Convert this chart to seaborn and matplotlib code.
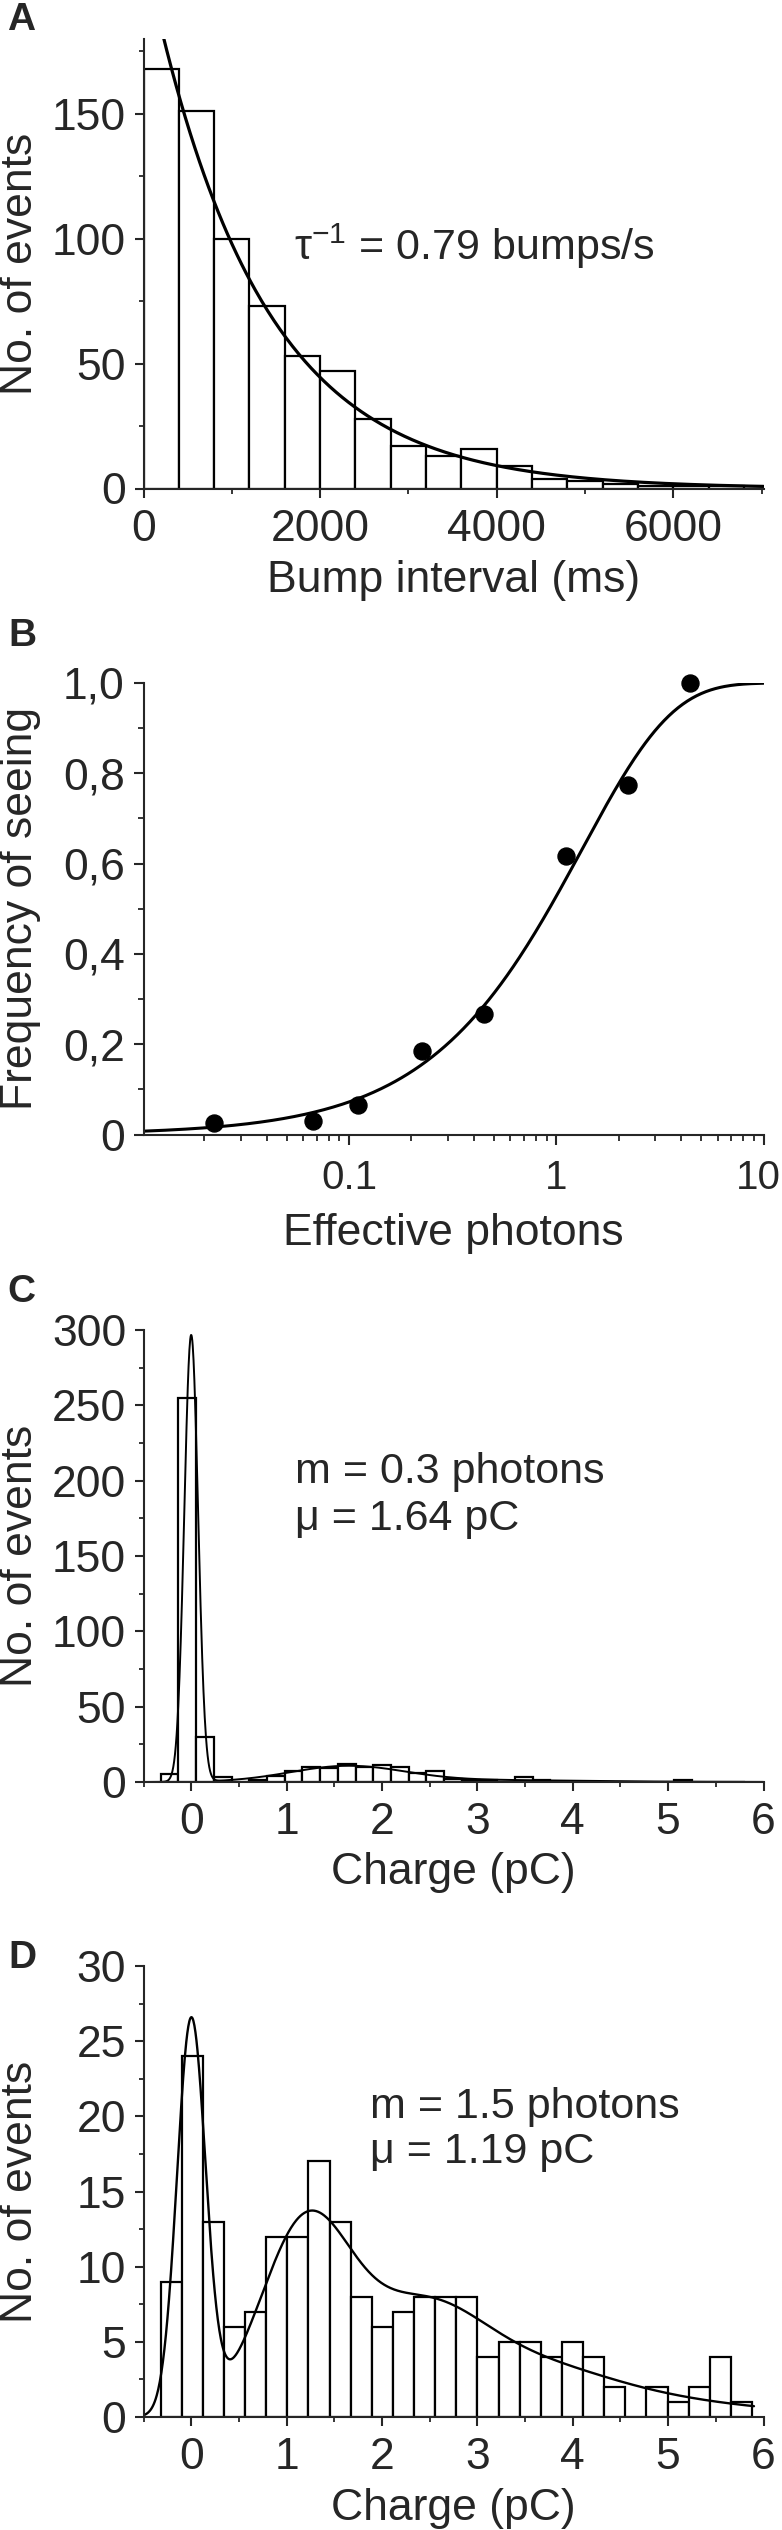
import numpy as np
import pandas as pd
import seaborn as sns
import matplotlib.pyplot as plt
import matplotlib.transforms as mtransforms
from matplotlib.ticker import MultipleLocator, LogLocator, NullFormatter
from math import factorial

# Panel A: bump intervals, 400 ms bins
interval_edges = np.arange(0, 7201, 400)
interval_counts = [168, 151, 100, 73, 53, 47, 28, 17, 13, 16, 9, 4, 3, 2, 1, 1, 1, 0]
bump_rate = 0.79      # bumps/s (fit)
interval_amp = 216    # fit amplitude

# Panel B: frequency of seeing
photons = [0.0223, 0.0667, 0.111, 0.224, 0.446, 1.11, 2.23, 4.44]
seeing = [0.026, 0.030, 0.065, 0.186, 0.268, 0.617, 0.774, 1.0]
seeing_k = 0.75
seeing_yticks = [0, 0.2, 0.4, 0.6, 0.8, 1.0]
seeing_ylabels = ["0", "0,2", "0,4", "0,6", "0,8", "1,0"]

# Panel C: charge histogram, m = 0.3
charge_c_start, charge_c_width = -0.319, 0.1857
charge_c_counts = [5, 255, 30, 3, 0, 1, 4, 7, 10, 9, 12, 10, 11, 10, 6, 7, 2, 1, 1, 0,
                   3, 1, 0, 0, 0, 0, 0, 0, 0, 1, 0, 0, 0]
fit_c = dict(m=0.3, mu=1.64, sd0=0.072, sd1=0.6)

# Panel D: charge histogram, m = 1.5
charge_d_start, charge_d_width = -0.32, 0.2214
charge_d_counts = [9, 24, 13, 6, 7, 12, 12, 17, 13, 8, 6, 7, 8, 8, 8, 4, 5, 5, 4, 5,
                   4, 2, 0, 2, 1, 2, 4, 1]
fit_d = dict(m=1.5, mu=1.19, sd0=0.149, sd1=0.45)

sns.set_style("ticks")
plt.rcParams["font.family"] = ["Liberation Sans", "DejaVu Sans"]
plt.rcParams["mathtext.fontset"] = "custom"
plt.rcParams["mathtext.rm"] = "Liberation Sans"
plt.rcParams["mathtext.it"] = "Liberation Sans:italic"
plt.rcParams["axes.linewidth"] = 1.5

W, H = 782, 2530
fig = plt.figure(figsize=(W / 100, H / 100), dpi=100)


def make_axes(left, right, top, bottom):
    return fig.add_axes([left / W, 1 - bottom / H, (right - left) / W, (bottom - top) / H])


def style(ax, major=6.5, minor=3.8):
    for s in ["top", "right"]:
        ax.spines[s].set_visible(False)
    ax.tick_params(which="major", direction="out", length=major, width=1.5, labelsize=32)
    ax.tick_params(which="minor", direction="out", length=minor, width=1.3)
    ax.tick_params(axis="x", which="major", pad=8)
    ax.tick_params(axis="y", which="major", pad=6)


def poisson_fit(x, n_total, width, m, mu, sd0, sd1):
    y = np.zeros_like(x)
    for n in range(10):
        p = np.exp(-m) * m ** n / factorial(n)
        sd = np.sqrt(sd0 ** 2 + n * sd1 ** 2)
        y += p * np.exp(-(x - n * mu) ** 2 / (2 * sd ** 2)) / (np.sqrt(2 * np.pi) * sd)
    return n_total * width * y


def hist_bars(ax, edges, counts):
    edges = np.asarray(edges, dtype=float)
    df = pd.DataFrame({"x": (edges[:-1] + edges[1:]) / 2, "n": counts})
    sns.histplot(data=df, x="x", weights="n", bins=list(edges), ax=ax, color="white",
                 edgecolor="black", linewidth=1.6, alpha=1)


def labels(ax, xlabel, ylabel, xl_y):
    ax.set_xlabel(xlabel, fontsize=32)
    ax.set_ylabel(ylabel, fontsize=32)
    ax.xaxis.set_label_coords(0.5, xl_y)
    ax.xaxis.label.set_verticalalignment("center")
    ax.yaxis.set_label_coords(-0.199, 0.5)
    ax.yaxis.label.set_verticalalignment("center")


# ---- A ----
axA = make_axes(143.5, 763.5, 39, 488.5)
hist_bars(axA, interval_edges, interval_counts)
xa = np.linspace(0, 7020, 400)
sns.lineplot(x=xa, y=interval_amp * np.exp(-xa * bump_rate / 1000), ax=axA,
             color="black", linewidth=2.3)
axA.set_xlim(0, 7020)
axA.set_ylim(0, 180)
axA.xaxis.set_major_locator(MultipleLocator(2000))
axA.xaxis.set_minor_locator(MultipleLocator(1000))
axA.yaxis.set_major_locator(MultipleLocator(50))
axA.yaxis.set_minor_locator(MultipleLocator(25))
style(axA)
labels(axA, "Bump interval (ms)", "No. of events", -0.204)
axA.text(1700, 97, "τ$^{-1}$ = 0.79 bumps/s", va="center", fontsize=31)

# ---- B ----
axB = make_axes(143.5, 763.5, 683, 1134.6)
xb = np.logspace(np.log10(0.0102), 1, 400)
sns.lineplot(x=xb, y=1 - np.exp(-seeing_k * xb), ax=axB, color="black", linewidth=2.2)
sns.scatterplot(x=photons, y=seeing, ax=axB, color="black", s=150, edgecolor="black",
                clip_on=False, zorder=5)
axB.set_xscale("log")
axB.set_xlim(0.0102, 10)
axB.set_ylim(0, 1.0)
axB.set_xticks([0.1, 1, 10], ["0.1", "1", "10"])
axB.xaxis.set_minor_locator(LogLocator(base=10, subs=np.arange(2, 10)))
axB.xaxis.set_minor_formatter(NullFormatter())
axB.set_yticks(seeing_yticks, seeing_ylabels)
axB.yaxis.set_minor_locator(MultipleLocator(0.1))
style(axB, major=7.5, minor=4.3)
axB.tick_params(axis="x", which="major", labelsize=29, pad=10)
# keep the "10" label inside the figure edge
last = axB.get_xticklabels()[-1]
last.set_transform(last.get_transform() +
                   mtransforms.ScaledTranslation(-4 / 72, 0, fig.dpi_scale_trans))
labels(axB, "Effective photons", "Frequency of seeing", -0.218)

# ---- C ----
axC = make_axes(143.5, 763.5, 1330, 1782)
edges_c = charge_c_start + charge_c_width * np.arange(len(charge_c_counts) + 1)
hist_bars(axC, edges_c, charge_c_counts)
xc = np.linspace(-0.5, 6, 1500)
sns.lineplot(x=xc, y=poisson_fit(xc, sum(charge_c_counts), charge_c_width, **fit_c),
             ax=axC, color="black", linewidth=1.4)
axC.set_xlim(-0.5, 6)
axC.set_ylim(0, 300)
axC.xaxis.set_major_locator(MultipleLocator(1))
axC.xaxis.set_minor_locator(MultipleLocator(0.5))
axC.yaxis.set_major_locator(MultipleLocator(50))
axC.yaxis.set_minor_locator(MultipleLocator(25))
style(axC)
labels(axC, "Charge (pC)", "No. of events", -0.201)
axC.text(1.09, 206, "m = 0.3 photons", va="center", fontsize=31)
axC.text(1.09, 174.5, "μ = 1.64 pC", va="center", fontsize=31)

# ---- D ----
axD = make_axes(143.5, 763.5, 1966, 2417)
edges_d = charge_d_start + charge_d_width * np.arange(len(charge_d_counts) + 1)
hist_bars(axD, edges_d, charge_d_counts)
xd = np.linspace(-0.5, 5.9, 1200)
sns.lineplot(x=xd, y=poisson_fit(xd, sum(charge_d_counts), charge_d_width, **fit_d),
             ax=axD, color="black", linewidth=1.7)
axD.set_xlim(-0.5, 6)
axD.set_ylim(0, 30)
axD.xaxis.set_major_locator(MultipleLocator(1))
axD.xaxis.set_minor_locator(MultipleLocator(0.5))
axD.yaxis.set_major_locator(MultipleLocator(5))
axD.yaxis.set_minor_locator(MultipleLocator(2.5))
style(axD)
labels(axD, "Charge (pC)", "No. of events", -0.202)
axD.text(1.87, 20.6, "m = 1.5 photons", va="center", fontsize=31)
axD.text(1.87, 17.6, "μ = 1.19 pC", va="center", fontsize=31)

# panel letters
for letter, x, y in [("A", 21, 20), ("B", 22, 636), ("C", 21, 1292), ("D", 22, 1958)]:
    fig.text(x / W, 1 - y / H, letter, fontsize=28, fontweight="bold", va="center", ha="center")

fig.savefig("out.png", dpi=100)
